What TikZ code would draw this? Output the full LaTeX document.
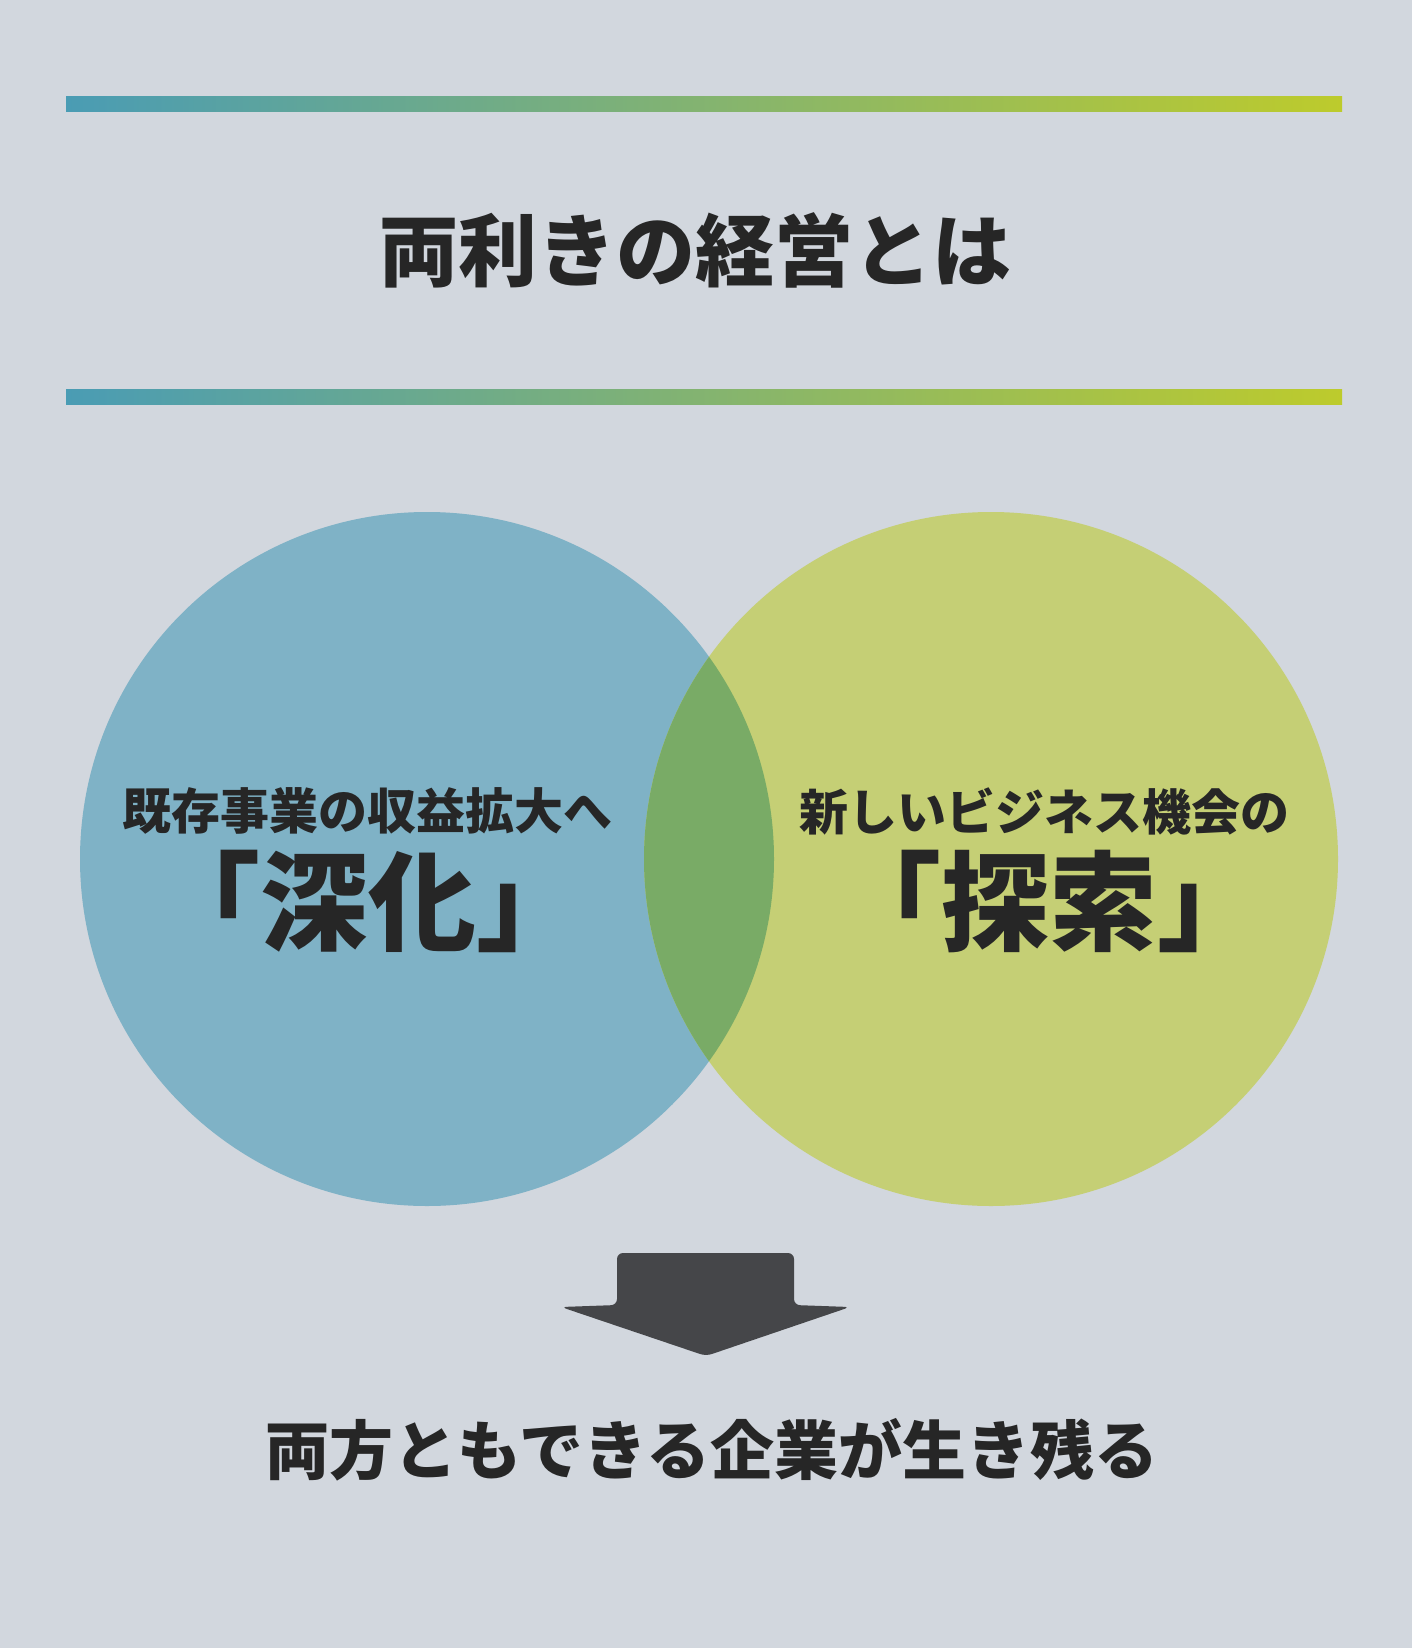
\documentclass[tikz,border=0pt]{standalone}
\usepackage{fontspec}
\newfontfamily\jpfont{Noto Sans CJK JP}
\usetikzlibrary{positioning}

\definecolor{bgcol}{HTML}{D2D7DE}
\definecolor{barleft}{HTML}{4A9CB4}
\definecolor{barright}{HTML}{BDCB2C}
\definecolor{deepcol}{HTML}{7FB2C6}
\definecolor{explcol}{HTML}{C5CF75}
\definecolor{bothcol}{HTML}{79AB66}
\definecolor{arrowcol}{HTML}{454649}
\definecolor{inkcol}{HTML}{262626}

\tikzset{
  bar/.style={left color=barleft, right color=barright},
  lbl/.style={text=inkcol, inner sep=0pt, font=\jpfont\bfseries},
  titlelbl/.style={lbl, font=\jpfont\bfseries\fontsize{39.5pt}{40pt}\selectfont},
  sublbl/.style={lbl, font=\jpfont\bfseries\fontsize{24.5pt}{25pt}\selectfont},
  keylbl/.style={lbl, font=\jpfont\bfseries\fontsize{54pt}{55pt}\selectfont},
  endlbl/.style={lbl, font=\jpfont\bfseries\fontsize{32pt}{33pt}\selectfont}
}

\begin{document}
\begin{tikzpicture}[x=0.5pt, y=-0.5pt]

% background
\fill[bgcol] (0,0) rectangle (1412,1648);
\useasboundingbox (0,0) rectangle (1412,1648);

% heading between two bars
\shade[bar] (66,97) rectangle (1342,112);
\shade[bar] (66,389) rectangle (1342,404);
\node[titlelbl] (title) at (695,250) {両利きの経営とは};

% the two circles and their overlap
\fill[deepcol] (427,859) circle (347);
\fill[explcol] (991,859) circle (347);
\begin{scope}
\clip (427,859) circle (347);
\fill[bothcol] (991,859) circle (347);
\end{scope}

\node[sublbl] (deepsub) at (367,811) {既存事業の収益拡大へ};
\node[keylbl] (deepkey) at (368,901) {「深化」};
\node[sublbl] (explsub) at (1044,811) {新しいビジネス機会の};
\node[keylbl] (explkey) at (1049,902) {「探索」};

% down arrow
\fill[arrowcol, rounded corners=3] (617,1253) -- (794,1253) -- (794,1305)
  -- (850,1307) -- (706,1356) -- (561,1307) -- (617,1305) -- cycle;

\node[endlbl] (result) at (712,1450) {両方ともできる企業が生き残る};

\end{tikzpicture}
\end{document}
